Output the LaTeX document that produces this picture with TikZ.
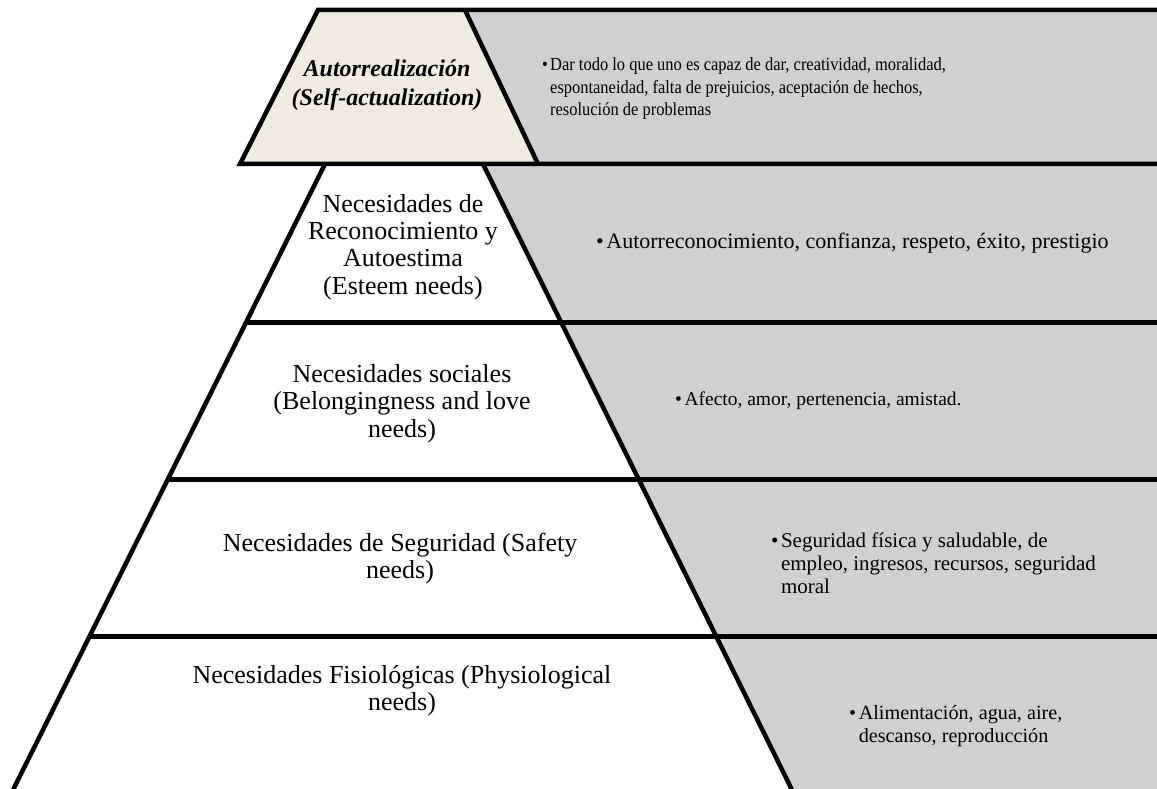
\documentclass[tikz,border=0pt]{standalone}
\usepackage{fontspec}
\setmainfont{Liberation Serif}
\definecolor{graybg}{RGB}{208,208,208}
\definecolor{beigebg}{RGB}{238,236,225}
\begin{document}
\begin{tikzpicture}[x=1pt,y=-1pt,
  edgeline/.style={line width=4.5pt, line join=miter, line cap=butt},
  lvltext/.style={font=\fontsize{26}{27.5}\selectfont, inner sep=0pt, anchor=base},
  toptext/.style={font=\fontsize{24}{29}\selectfont\bfseries\itshape, inner sep=0pt, anchor=base},
  desctext/.style={font=\fontsize{21}{23}\selectfont, inner sep=0pt, anchor=base west}]
\useasboundingbox (0,0) rectangle (1157,789);
% pyramid corners
\coordinate (T1) at (318,10);   \coordinate (T2) at (465,10);
\coordinate (T3) at (538,164);  \coordinate (T4) at (240,164);
\coordinate (L1) at (325,164);  \coordinate (R1) at (483,164);
\coordinate (L2) at (246,322.5);  \coordinate (R2) at (560.7,322.5);
\coordinate (L3) at (167.9,479.3);\coordinate (R3) at (637.6,479.3);
\coordinate (L4) at (89.4,636.7); \coordinate (R4) at (714.8,636.7);
\coordinate (L5) at (8,800);      \coordinate (R5) at (797,800);
% backgrounds
\fill[graybg] (T2) -- (1165,10) -- (1165,800) -- (R5) -- (R1) -- (T3) -- cycle;
\fill[beigebg] (T1) -- (T2) -- (T3) -- (T4) -- cycle;
% lines
\draw[edgeline] (1165,10) -- (T1) -- (T4) -- (1165,164);
\draw[edgeline] (T2) -- (T3);
\draw[edgeline] (L1) -- (L5);
\draw[edgeline] (R1) -- (R5);
\draw[edgeline] (L2) -- (1165,322.5);
\draw[edgeline] (L3) -- (1165,479.3);
\draw[edgeline] (L4) -- (1165,636.7);
% level labels
\node[toptext] (n1) at (387,77) {\begin{tabular}[t]{@{}c@{}}Autorrealización\\(Self-actualization)\end{tabular}};
\node[lvltext] (n2) at (403,212) {\begin{tabular}[t]{@{}c@{}}Necesidades de\\Reconocimiento y\\Autoestima\\(Esteem needs)\end{tabular}};
\node[lvltext] (n3) at (402,382) {\begin{tabular}[t]{@{}c@{}}Necesidades sociales\\(Belongingness and love\\needs)\end{tabular}};
\node[lvltext] (n4) at (400,551) {\begin{tabular}[t]{@{}c@{}}Necesidades de Seguridad (Safety\\needs)\end{tabular}};
\node[lvltext] (n5) at (402,683) {\begin{tabular}[t]{@{}c@{}}Necesidades Fisiológicas (Physiological\\needs)\end{tabular}};
% descriptions
\node[desctext, font=\fontsize{18.5}{22.5}\selectfont] (d1) at (542,71) {\scalebox{0.89}[1]{\textbullet\hspace{2.5pt}\begin{tabular}[t]{@{}l@{}}Dar todo lo que uno es capaz de dar, creatividad, moralidad,\\espontaneidad, falta de prejuicios, aceptación de hechos,\\resolución de problemas\end{tabular}}};
\node[desctext, font=\fontsize{22}{24}\selectfont] (d2) at (596,248) {\textbullet\hspace{2.5pt}Autorreconocimiento, confianza, respeto, éxito, prestigio};
\node[desctext, font=\fontsize{19.5}{23}\selectfont] (d3) at (675,405) {\textbullet\hspace{2.5pt}Afecto, amor, pertenencia, amistad.};
\node[desctext] (d4) at (771,547) {\textbullet\hspace{2.5pt}\begin{tabular}[t]{@{}l@{}}Seguridad física y saludable, de\\empleo, ingresos, recursos, seguridad\\moral\end{tabular}};
\node[desctext, font=\fontsize{20.2}{23}\selectfont] (d5) at (849,719) {\textbullet\hspace{2.5pt}\begin{tabular}[t]{@{}l@{}}Alimentación, agua, aire,\\descanso, reproducción\end{tabular}};
\end{tikzpicture}
\end{document}
